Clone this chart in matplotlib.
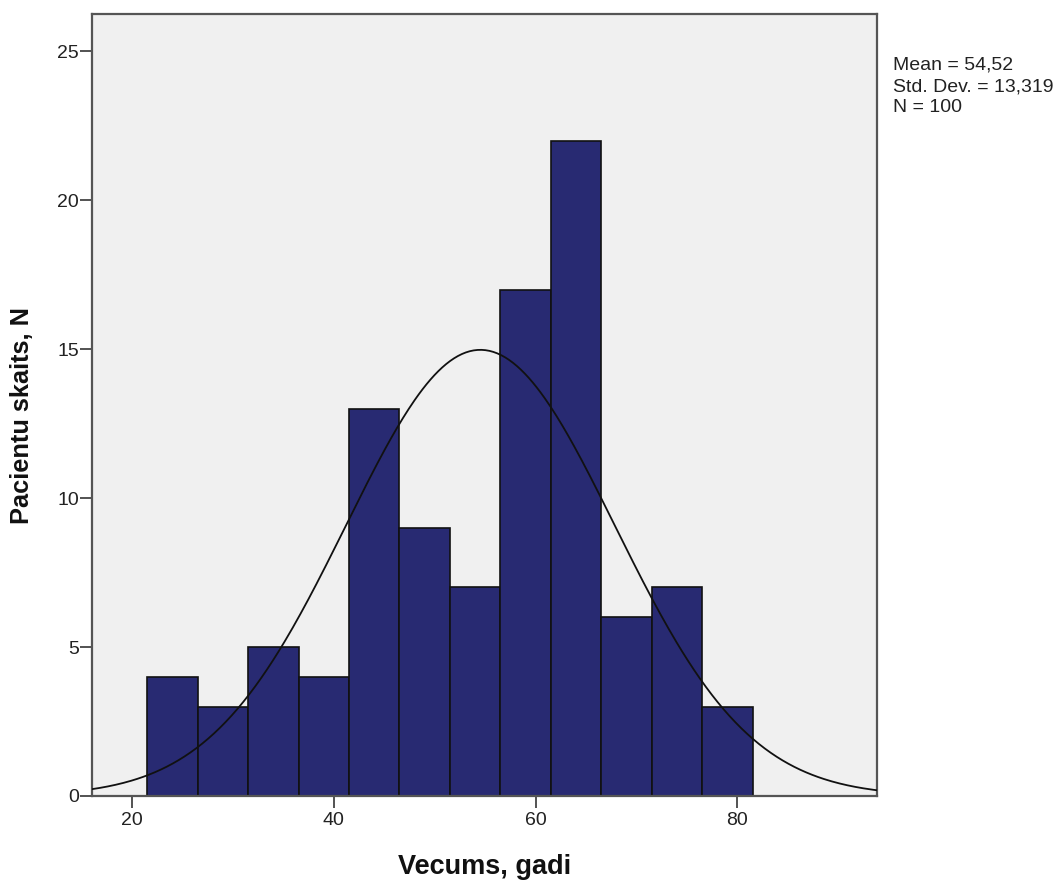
import numpy as np
import matplotlib
matplotlib.use("Agg")
import matplotlib.pyplot as plt

bin_edges = [21.5, 26.5, 31.5, 36.5, 41.5, 46.5, 51.5, 56.5, 61.5, 66.5, 71.5, 76.5, 81.5]
counts = [4, 3, 5, 4, 13, 9, 7, 17, 22, 6, 7, 3]
mean = 54.52
std = 13.319
n = 100
xticks = [20, 40, 60, 80]
yticks = [0, 5, 10, 15, 20, 25]
stats_lines = ["Mean = 54,52", "Std. Dev. = 13,319", "N = 100"]

plt.rcParams['font.family'] = ['Liberation Sans', 'DejaVu Sans']

W, H = 1063, 881
fig = plt.figure(figsize=(W / 100, H / 100), dpi=100)
ax = fig.add_axes([92 / W, 1 - 796 / H, (877 - 92) / W, (796 - 14) / H])
ax.set_facecolor('#f0f0f0')

widths = np.diff(bin_edges)
ax.bar(bin_edges[:-1], counts, width=widths, align='edge', color='#282a72',
       edgecolor='#111111', linewidth=1.2, zorder=2)

xmin, xmax = 16.03, 93.83
xs = np.linspace(xmin, xmax, 400)
bw = widths[0]
ys = n * bw / (std * np.sqrt(2 * np.pi)) * np.exp(-0.5 * ((xs - mean) / std) ** 2)
ax.plot(xs, ys, color='#111111', linewidth=1.3, zorder=3)

ax.set_xlim(xmin, xmax)
ax.set_ylim(0, 26.25)
ax.set_xticks(xticks)
ax.set_yticks(yticks)
ax.tick_params(axis='both', direction='out', length=8.5, width=1.3, labelsize=14,
               colors='#444444', labelcolor='#222222')
ax.tick_params(axis='y', pad=1)
ax.tick_params(axis='x', pad=3)
for s in ax.spines.values():
    s.set_color('#555555')
    s.set_linewidth(1.6)

fig.text(485 / W, 1 - 874 / H, 'Vecums, gadi', fontsize=19.5, fontweight='bold',
         ha='center', va='baseline', color='#111111')
fig.text(22 / W, 1 - 416 / H, 'Pacientu skaits, N', fontsize=18.3, fontweight='bold',
         ha='center', va='center', rotation=90, color='#111111')

for i, line in enumerate(stats_lines):
    fig.text(893 / W, 1 - (70 + 21 * i) / H, line, fontsize=14, ha='left',
             va='baseline', color='#222222')

fig.savefig('out.png', dpi=100)
